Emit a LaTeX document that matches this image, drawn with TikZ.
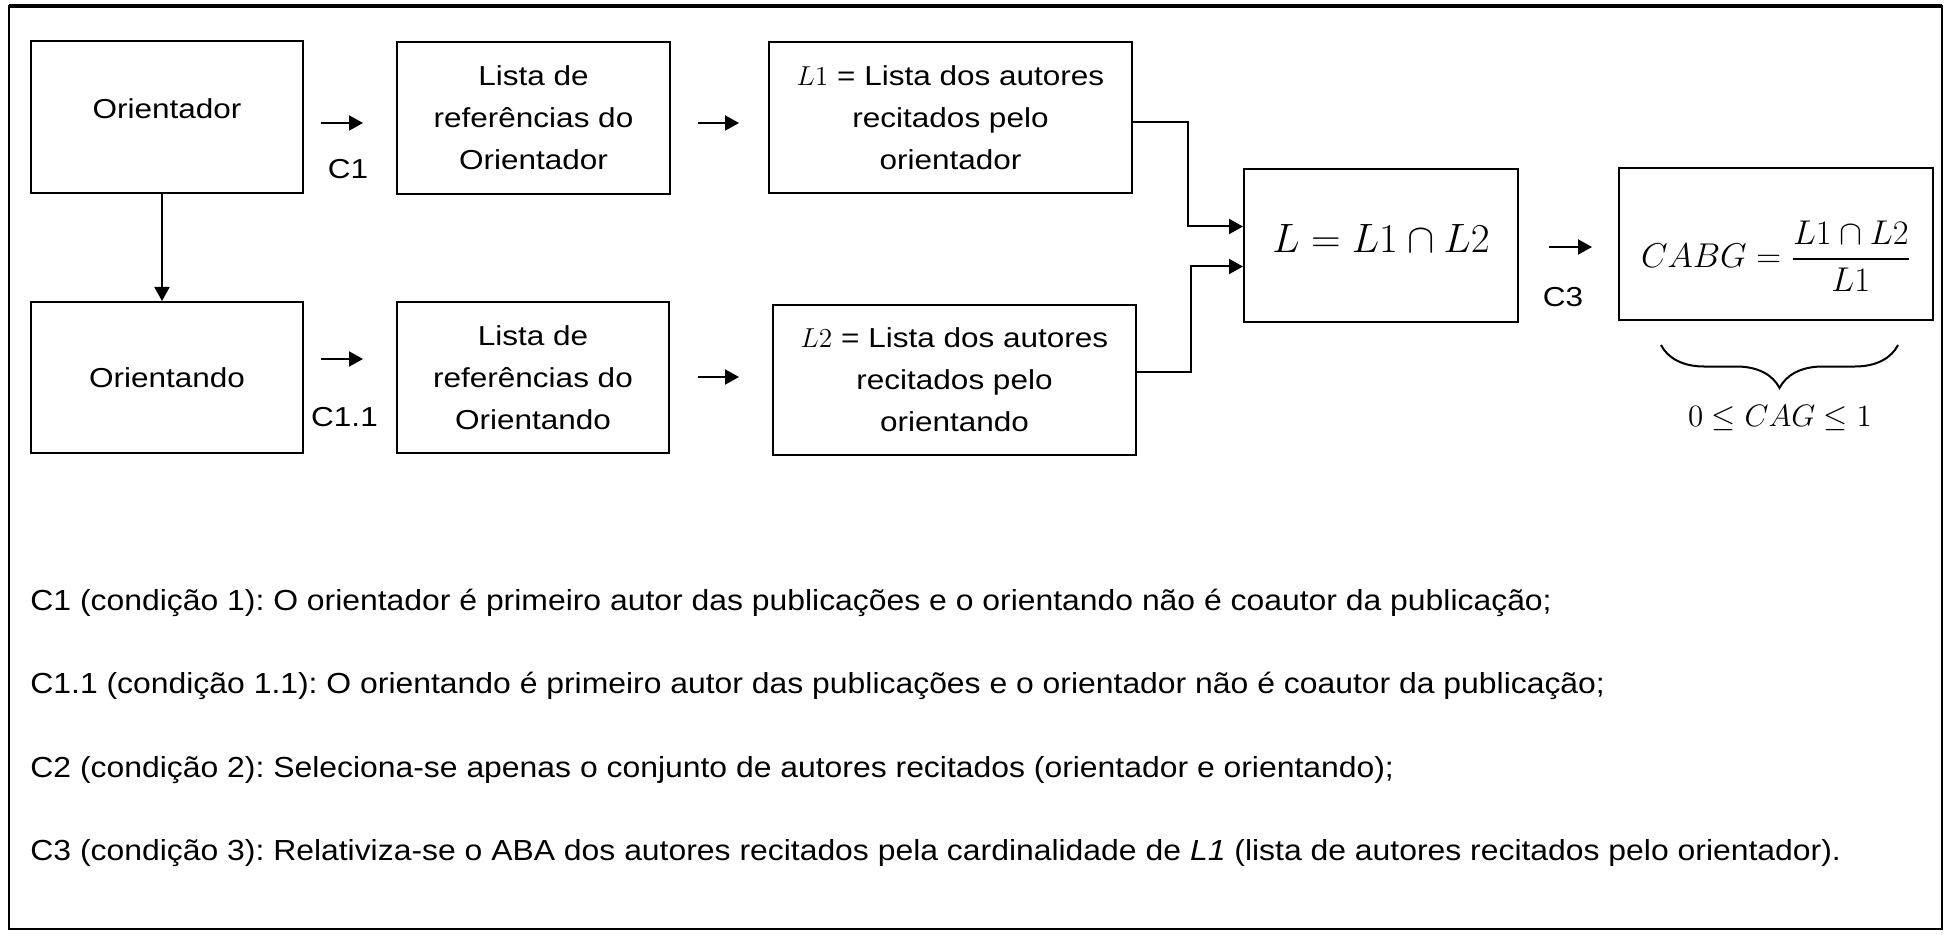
\RequirePackage{fix-cm}
\documentclass[tikz,border=0pt]{standalone}
\usepackage[no-math]{fontspec}
\usepackage{amsmath}
\setmainfont{Liberation Sans}[FakeStretch=1.15]
\newfontfamily\condfont{Liberation Sans}[FakeStretch=1.10]
\usetikzlibrary{arrows.meta,decorations.pathreplacing}
\frenchspacing

\tikzset{
  caixa/.style={draw, line width=1pt, align=center, inner sep=0pt,
    font=\fontsize{13.7pt}{21pt}\selectfont},
  seta/.style={line width=1pt, -{Triangle[length=7pt,width=7.5pt]}},
  rotulo/.style={inner sep=0pt, font=\fontsize{13.7pt}{16pt}\selectfont},
  cond/.style={anchor=base west, inner sep=0pt, font=\condfont\fontsize{14.5pt}{17pt}\selectfont}
}

\begin{document}
\begin{tikzpicture}[x=0.5pt,y=-0.5pt]
\useasboundingbox (0,0) rectangle (1946,935);
\draw[line width=1.25pt] (9,6) rectangle (1942,929);
\draw[line width=2pt] (9,6) -- (1942,6);

% linha de cima
\node[caixa, minimum width=136pt, minimum height=76pt, text height=2pt, text depth=0pt] (orientador) at (167,117) {Orientador};
\node[caixa, minimum width=136.5pt, minimum height=76pt] (listaA) at (533.5,118) {Lista de\\referências do\\Orientador};
\node[caixa, minimum width=181.5pt, minimum height=75.5pt] (lum) at (950.5,117.5) {$L1$ = Lista dos autores\\recitados pelo\\orientador};

% linha de baixo
\node[caixa, minimum width=136pt, minimum height=75.5pt] (orientando) at (167,377.5) {Orientando};
\node[caixa, minimum width=136pt, minimum height=75.5pt] (listaB) at (533,377.5) {Lista de\\referências do\\Orientando};
\node[caixa, minimum width=181.5pt, minimum height=75pt] (ldois) at (954.5,380) {$L2$ = Lista dos autores\\recitados pelo\\orientando};

% intersecao e indice
\node[caixa, minimum width=137pt, minimum height=76.5pt, text height=7.5pt, text depth=0pt,
  font=\fontsize{20.5pt}{24pt}\selectfont] (inter) at (1381,245.5) {$L = L1 \cap L2$};
\node[caixa, minimum width=157pt, minimum height=76pt, text height=23.6pt, text depth=0pt,
  font=\fontsize{17.2pt}{21pt}\selectfont] (cabg) at (1776,244) {$CABG = \dfrac{L1 \cap L2}{L1}$};

% setas curtas
\coordinate (c1a) at (321,123);   \coordinate (c1b) at (363,123);
\coordinate (r1a) at (698,123);   \coordinate (r1b) at (739,123);
\coordinate (c11a) at (321,359);  \coordinate (c11b) at (363,359);
\coordinate (r2a) at (698,377);   \coordinate (r2b) at (739,377);
\coordinate (c3a) at (1549,247);  \coordinate (c3b) at (1592,247);
\draw[seta] (c1a) -- (c1b);
\draw[seta] (r1a) -- (r1b);
\draw[seta] (c11a) -- (c11b);
\draw[seta] (r2a) -- (r2b);
\draw[seta] (c3a) -- (c3b);
\node[rotulo] (lc1) at (348,169) {C1};
\node[rotulo] (lc11) at (344.5,417) {C1.1};
\node[rotulo] (lc3) at (1563,297.5) {C3};

\draw[seta] ([xshift=-2.5pt]orientador.south) -- ([xshift=-2.5pt]orientando.north);
\draw[seta] ([yshift=-2.25pt]lum.east) -- ++(55,0) |- ([yshift=9.5pt]inter.west);
\draw[seta] ([yshift=4pt]ldois.east) -- ++(54,0) |- ([yshift=-10.5pt]inter.west);

% chave
\coordinate (ch1) at (1661,345);
\coordinate (ch2) at (1898,345);
\draw[line width=1pt, decorate, decoration={brace, mirror, amplitude=21.5pt}] (ch1) -- (ch2);
\node[inner sep=0pt, font=\fontsize{15.5pt}{19pt}\selectfont] (cag) at (1780,418) {$0 \leq CAG \leq 1$};

% condicoes
\node[cond] (t1) at (30,610) {C1 (condição 1): O orientador é primeiro autor das publicações e o orientando não é coautor da publicação;};
\node[cond] (t2) at (30,693) {C1.1 (condição 1.1): O orientando é primeiro autor das publicações e o orientador não é coautor da publicação;};
\node[cond] (t3) at (30,777) {C2 (condição 2): Seleciona-se apenas o conjunto de autores recitados (orientador e orientando);};
\node[cond] (t4) at (30,860) {C3 (condição 3): Relativiza-se o ABA dos autores recitados pela cardinalidade de \textit{L1} (lista de autores recitados pelo orientador).};
\end{tikzpicture}
\end{document}
